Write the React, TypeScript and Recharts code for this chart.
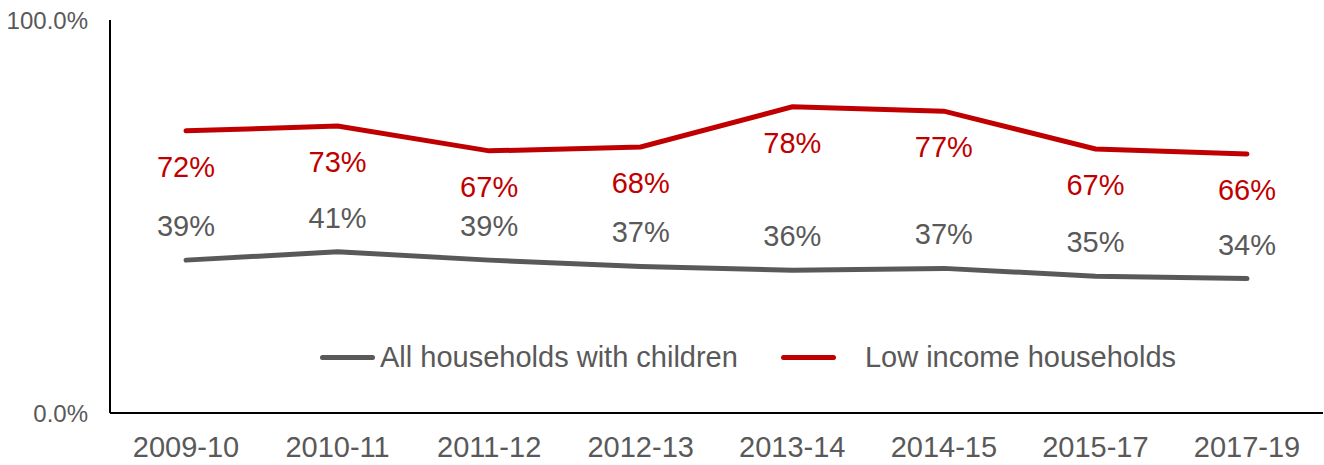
import React from 'react';
import { LineChart, Line, XAxis, YAxis, LabelList } from 'recharts';

const categories = ['2009-10', '2010-11', '2011-12', '2012-13', '2013-14', '2014-15', '2015-17', '2017-19'];
const allHouseholds = [38.9, 41.0, 38.9, 37.3, 36.3, 36.8, 34.8, 34.2];
const lowIncome = [71.8, 73.0, 66.7, 67.7, 77.9, 76.8, 67.2, 65.9];
const yTicks = [0, 100];

const data = categories.map((c, i) => ({ year: c, all: allHouseholds[i], low: lowIncome[i] }));

const FONT = '"Liberation Sans", Arial, sans-serif';
const GREY = '#595959';
const RED = '#C00000';

const makeLabel = (color: string, dy: number) => (props: any) => {
  const { x, y, value } = props;
  return (
    <text x={x} y={y + dy} textAnchor="middle" dominantBaseline="central" fill={color} fontSize={29} fontFamily={FONT}>
      {Math.round(value)}%
    </text>
  );
};

const LegendBox = () => (
  <div style={{ position: 'absolute', left: 320, top: 339, display: 'flex', alignItems: 'center', fontFamily: FONT, fontSize: 29, color: GREY, lineHeight: '36px', whiteSpace: 'nowrap' }}>
    <span style={{ display: 'inline-block', width: 55, height: 5, background: GREY, borderRadius: 3, marginRight: 5 }} />
    <span>All households with children</span>
    <span style={{ display: 'inline-block', width: 55, height: 5, background: RED, borderRadius: 3, marginLeft: 43, marginRight: 29 }} />
    <span>Low income households</span>
  </div>
);

export default function App() {
  return (
    <div style={{ position: 'absolute', left: 0, top: 0, width: 1324, height: 465 }}>
      <LineChart width={1324} height={465} data={data} margin={{ top: 20, right: 1, left: 0, bottom: 0 }}>
        <XAxis
          dataKey="year"
          height={52}
          padding={{ left: 76, right: 76 }}
          axisLine={{ stroke: '#000', strokeWidth: 2 }}
          tickLine={false}
          tickSize={0}
          tickMargin={23}
          tick={{ fill: GREY, fontSize: 29, fontFamily: FONT }}
        />
        <YAxis
          width={110}
          domain={[0, 100]}
          ticks={yTicks}
          axisLine={{ stroke: '#000', strokeWidth: 2 }}
          tickLine={false}
          tickSize={0}
          tickMargin={22}
          tickFormatter={(v: number) => `${v.toFixed(1)}%`}
          tick={{ fill: GREY, fontSize: 24, fontFamily: FONT }}
        />
        <Line
          dataKey="all"
          name="All households with children"
          stroke={GREY}
          strokeWidth={5}
          strokeLinecap="round"
          dot={false}
          activeDot={false}
          isAnimationActive={false}
        >
          <LabelList dataKey="all" content={makeLabel(GREY, -34)} />
        </Line>
        <Line
          dataKey="low"
          name="Low income households"
          stroke={RED}
          strokeWidth={5}
          strokeLinecap="round"
          dot={false}
          activeDot={false}
          isAnimationActive={false}
        >
          <LabelList dataKey="low" content={makeLabel(RED, 36)} />
        </Line>
      </LineChart>
      <LegendBox />
    </div>
  );
}
